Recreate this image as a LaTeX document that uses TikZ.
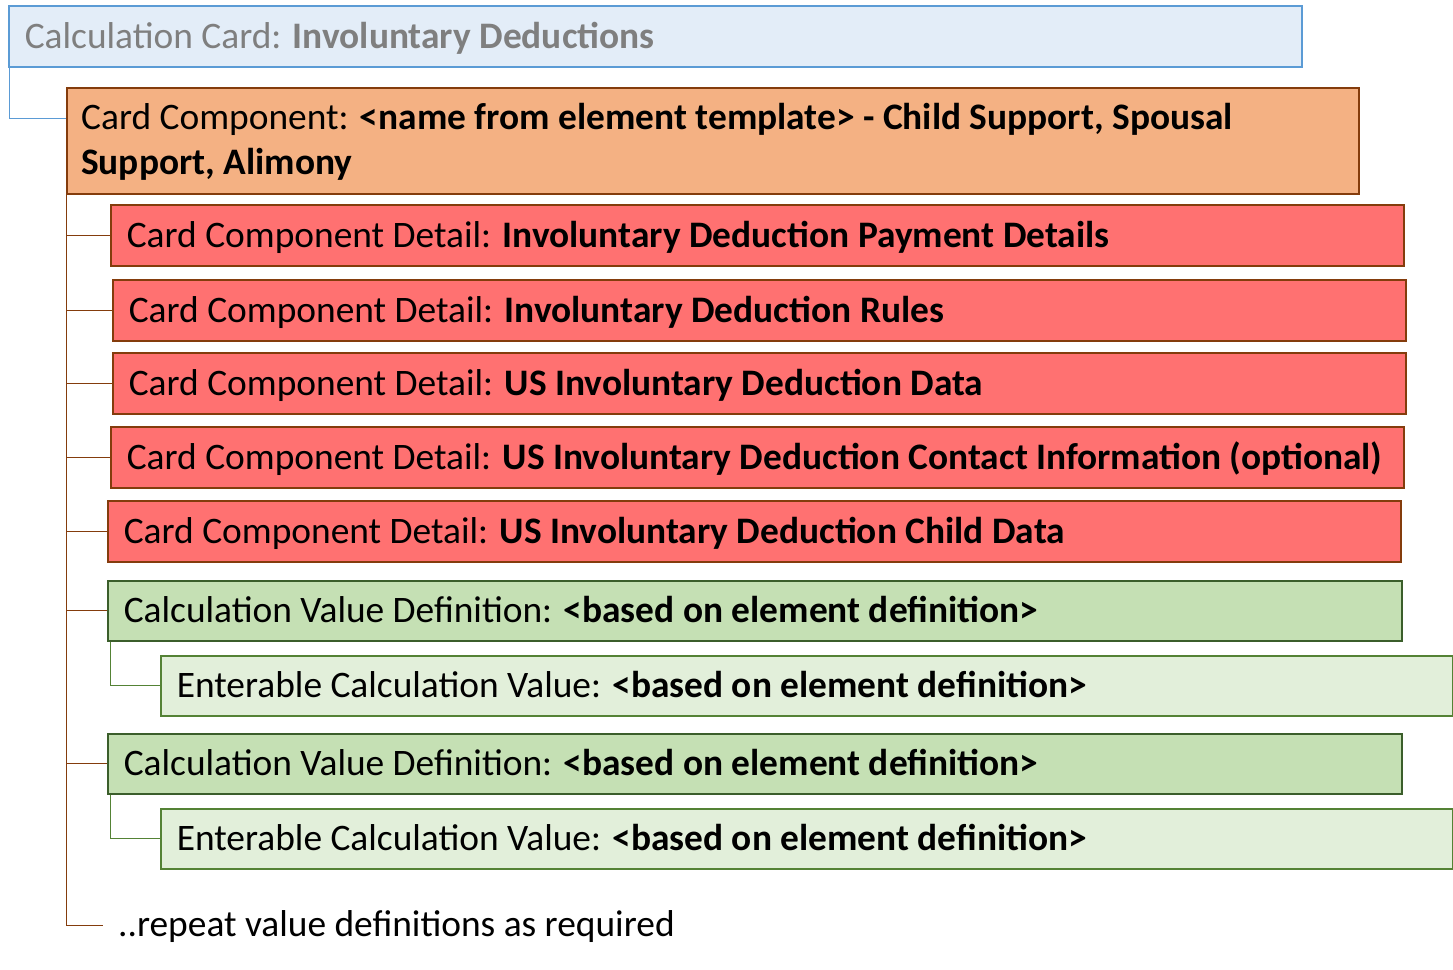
\documentclass[tikz,border=0pt]{standalone}
\usepackage{fontspec}
\setmainfont{Carlito}
\definecolor{cardfill}{HTML}{E3EDF8}
\definecolor{cardline}{HTML}{5B9BD5}
\definecolor{cardtext}{HTML}{7F7F7F}
\definecolor{compfill}{HTML}{F4B183}
\definecolor{brownline}{HTML}{843C0C}
\definecolor{redfill}{HTML}{FF7171}
\definecolor{cvfill}{HTML}{C5E0B4}
\definecolor{cvline}{HTML}{3B5E2B}
\definecolor{ecfill}{HTML}{E2EFDA}
\definecolor{ecline}{HTML}{548235}
\newcommand{\fsz}{\fontsize{37.4}{45}\selectfont}
\newcommand{\lb}[2]{\makebox[#1][l]{#2}}
\tikzset{
  bx/.style={rectangle, anchor=north west, inner xsep=16pt, inner ysep=0pt,
    text height=23.5pt, text depth=0pt, font=\fsz, line width=1.6pt},
  cardbox/.style={bx, fill=cardfill, draw=cardline, text=cardtext},
  compbox/.style={bx, fill=compfill, draw=brownline},
  redbox/.style={bx, fill=redfill, draw=brownline, minimum width=1293pt, minimum height=61pt},
  cvbox/.style={bx, fill=cvfill, draw=cvline, minimum width=1294pt, minimum height=60pt},
  ecbox/.style={bx, fill=ecfill, draw=ecline, minimum width=1292pt, minimum height=60pt},
  brownconn/.style={draw=brownline, line width=1pt},
  greenconn/.style={draw=ecline, line width=1pt},
  blueconn/.style={draw=cardline, line width=1pt},
}
\begin{document}
\begin{tikzpicture}[x=1pt,y=1pt]
\useasboundingbox (0,0) rectangle (1453,-969);
% calculation card
\node[cardbox, minimum width=1293pt, minimum height=61pt] (card) at (8,-5)
  {\lb{1261pt}{Calculation Card: \textbf{Involuntary Deductions}}};
% card component
\node[compbox, minimum width=1292pt, minimum height=106pt] (comp) at (66,-87) {};
\node[anchor=base west, inner sep=0pt, font=\fsz] (compl1) at (81,-129)
  {Card Component: \textbf{<name from element template> - Child Support, Spousal}};
\node[anchor=base west, inner sep=0pt, font=\fsz] (compl2) at (81,-174)
  {\textbf{Support, Alimony}};
% details
\node[redbox] (r1) at (110,-204) {\lb{1261pt}{Card Component Detail: \textbf{Involuntary Deduction Payment Details}}};
\node[redbox] (r2) at (112,-279) {\lb{1261pt}{Card Component Detail: \textbf{Involuntary Deduction Rules}}};
\node[redbox] (r3) at (112,-352) {\lb{1261pt}{Card Component Detail: \textbf{US Involuntary Deduction Data}}};
\node[redbox] (r4) at (110,-426) {\lb{1261pt}{Card Component Detail: \textbf{US Involuntary Deduction Contact Information (optional)}}};
\node[redbox] (r5) at (107,-500) {\lb{1261pt}{Card Component Detail: \textbf{US Involuntary Deduction Child Data}}};
% value definitions
\node[cvbox] (g1) at (107,-580) {\lb{1262pt}{Calculation Value Definition: \textbf{<based on element definition>}}};
\node[ecbox] (e1) at (160,-655) {\lb{1260pt}{Enterable Calculation Value: \textbf{<based on element definition>}}};
\node[cvbox] (g2) at (107,-733) {\lb{1262pt}{Calculation Value Definition: \textbf{<based on element definition>}}};
\node[ecbox] (e2) at (160,-808) {\lb{1260pt}{Enterable Calculation Value: \textbf{<based on element definition>}}};
\node[anchor=west, inner xsep=15pt, inner ysep=0pt, text height=23.5pt, text depth=0pt, font=\fsz] (rep) at (103,-925)
  {..repeat value definitions as required};
% connectors
\draw[blueconn] ([xshift=1pt]card.south west) |- ([yshift=-31pt]comp.north west);
\coordinate (t) at ([xshift=0.5pt]comp.south west);
\draw[brownconn] (t) |- (rep.west);
\foreach \n in {r1,r2,r3,r4,r5,g1,g2} {
  \draw[brownconn] (t |- \n.west) -- (\n.west);
}
\draw[greenconn] ([xshift=3pt]g1.south west) |- (e1.west);
\draw[greenconn] ([xshift=3pt]g2.south west) |- (e2.west);
\end{tikzpicture}
\end{document}
